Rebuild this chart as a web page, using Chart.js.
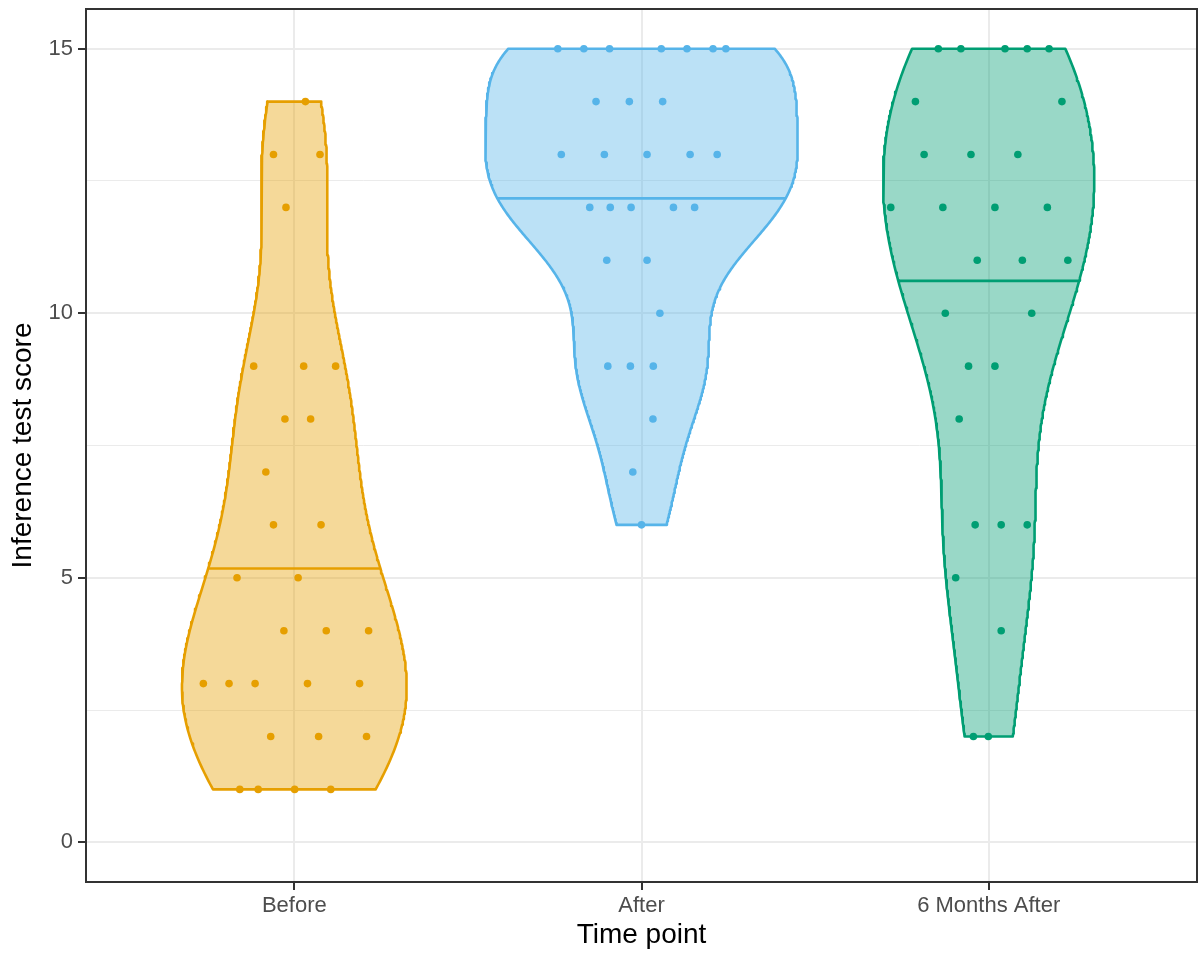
<!DOCTYPE html>
<html>
<head>
<meta charset="utf-8">
<script src="https://cdn.jsdelivr.net/npm/chart.js@4.4.0/dist/chart.umd.min.js"></script>
<style>
  html, body { margin: 0; padding: 0; background: #fff; }
</style>
</head>
<body>
<canvas id="violinChart" width="1201" height="953"></canvas>
<script>
// data
const categories = ['Before', 'After', '6 Months After'];
const beforeScores = [14, 13, 13, 12, 9, 9, 9, 8, 8, 7, 6, 6, 5, 5, 4, 4, 4, 3, 3, 3, 3, 3, 2, 2, 2, 1, 1, 1, 1];
const beforeJitter = [0.032, -0.060, 0.074, -0.024, -0.117, 0.027, 0.119, -0.027, 0.047, -0.082, -0.060, 0.077, -0.165, 0.011, -0.030, 0.092, 0.214, -0.262, -0.188, -0.113, 0.038, 0.188, -0.068, 0.070, 0.208, -0.157, -0.104, 0.001, 0.105];
const afterScores = [15, 15, 15, 15, 15, 15, 15, 14, 14, 14, 13, 13, 13, 13, 13, 12, 12, 12, 12, 12, 11, 11, 10, 9, 9, 9, 8, 7, 6];
const afterJitter = [-0.241, -0.166, -0.092, 0.057, 0.131, 0.206, 0.243, -0.131, -0.035, 0.061, -0.231, -0.107, 0.016, 0.140, 0.218, -0.149, -0.090, -0.030, 0.092, 0.153, -0.100, 0.016, 0.053, -0.097, -0.032, 0.034, 0.033, -0.025, 0.000];
const sixMonthScores = [15, 15, 15, 15, 15, 14, 14, 13, 13, 13, 12, 12, 12, 12, 11, 11, 11, 10, 10, 9, 9, 8, 6, 6, 6, 5, 4, 2, 2];
const sixMonthJitter = [-0.145, -0.080, 0.047, 0.111, 0.174, -0.211, 0.211, -0.186, -0.051, 0.084, -0.282, -0.132, 0.018, 0.169, -0.033, 0.097, 0.228, -0.125, 0.124, -0.058, 0.018, -0.085, -0.039, 0.036, 0.111, -0.095, 0.036, -0.044, -0.001];
const yTicks = [0, 2.5, 5, 7.5, 10, 12.5, 15];

const groups = [
    { scores: beforeScores, jitter: beforeJitter, colour: '#E69F00', fill: 'rgba(230, 159, 0, 0.4)' },
    { scores: afterScores, jitter: afterJitter, colour: '#56B4E9', fill: 'rgba(86, 180, 233, 0.4)' },
    { scores: sixMonthScores, jitter: sixMonthJitter, colour: '#009E73', fill: 'rgba(0, 158, 115, 0.4)' }
];

// Silverman's rule (R's bw.nrd0), same as ggplot's default
function bwNrd0(values) {
    const s = [...values].sort((a, b) => a - b);
    const n = s.length;
    const mean = s.reduce((a, b) => a + b, 0) / n;
    const sd = Math.sqrt(s.reduce((a, b) => a + (b - mean) ** 2, 0) / (n - 1));
    const q = p => {
        const h = (n - 1) * p, lo = Math.floor(h);
        return s[lo] + (h - lo) * (s[Math.min(lo + 1, n - 1)] - s[lo]);
    };
    const spread = Math.min(sd, (q(0.75) - q(0.25)) / 1.34) || sd || 1;
    return 0.9 * spread * Math.pow(n, -0.2);
}

// gaussian kde, trimmed to the data range
function density(values) {
    const bw = bwNrd0(values);
    const lo = Math.min(...values), hi = Math.max(...values);
    const ys = [], dens = [];
    for (let i = 0; i < 256; i++) {
        const y = lo + (hi - lo) * i / 255;
        let d = 0;
        values.forEach(v => { const z = (y - v) / bw; d += Math.exp(-0.5 * z * z); });
        ys.push(y);
        dens.push(d / (values.length * bw * Math.sqrt(2 * Math.PI)));
    }
    return { ys, dens };
}

const kdes = groups.map(g => density(g.scores));
const maxDens = Math.max(...kdes.map(k => Math.max(...k.dens)));

const datasets = [];
groups.forEach((g, gi) => {
    const centre = gi + 1;
    const { ys, dens } = kdes[gi];
    const half = dens.map(d => 0.45 * d / maxDens);

    const outline = [];
    for (let i = 0; i < ys.length; i++) outline.push({ x: centre + half[i], y: ys[i] });
    for (let i = ys.length - 1; i >= 0; i--) outline.push({ x: centre - half[i], y: ys[i] });
    outline.push(outline[0]);

    datasets.push({
        data: outline,
        showLine: true,
        fill: 'shape',
        backgroundColor: g.fill,
        borderColor: g.colour,
        borderWidth: 2.6,
        borderJoinStyle: 'round',
        borderCapStyle: 'round',
        pointRadius: 0,
        tension: 0,
        order: 3
    });

    // median of the density, as draw_quantiles = 0.5
    const total = dens.reduce((a, b) => a + b, 0);
    let cum = 0, medY = ys[0], medW = half[0];
    for (let i = 0; i < ys.length; i++) {
        const prev = cum;
        cum += dens[i] / total;
        if (cum >= 0.5) {
            const t = i === 0 ? 0 : (0.5 - prev) / (cum - prev);
            medY = ys[i - 1] + t * (ys[i] - ys[i - 1]);
            medW = half[i - 1] + t * (half[i] - half[i - 1]);
            break;
        }
    }
    datasets.push({
        data: [{ x: centre - medW, y: medY }, { x: centre + medW, y: medY }],
        showLine: true,
        fill: false,
        borderColor: g.colour,
        borderWidth: 2.6,
        pointRadius: 0,
        order: 2
    });
});

groups.forEach((g, gi) => {
    datasets.push({
        data: g.scores.map((s, i) => ({ x: gi + 1 + g.jitter[i], y: s })),
        backgroundColor: g.colour,
        borderWidth: 0,
        pointRadius: 3.8,
        order: 1
    });
});

const panelBorder = {
    id: 'panelBorder',
    afterDraw(chart) {
        const { ctx, chartArea: a } = chart;
        ctx.save();
        ctx.strokeStyle = '#333333';
        ctx.lineWidth = 2;
        ctx.strokeRect(a.left, a.top, a.right - a.left, a.bottom - a.top);
        ctx.restore();
    }
};

Chart.defaults.font.family = '"Liberation Sans", Arial, sans-serif';

const ctx = document.getElementById('violinChart').getContext('2d');
const violinChart = new Chart(ctx, {
    type: 'scatter',
    data: { datasets: datasets },
    plugins: [panelBorder],
    options: {
        responsive: false,
        devicePixelRatio: 1,
        animation: false,
        events: [],
        layout: { padding: { top: 9, right: 0, left: 0, bottom: 0 } },
        plugins: { legend: { display: false }, tooltip: { enabled: false } },
        scales: {
            x: {
                type: 'linear',
                min: 0.4,
                max: 3.6,
                afterBuildTicks: scale => { scale.ticks = categories.map((c, i) => ({ value: i + 1 })); },
                afterFit: scale => { scale.height = 71; scale.paddingLeft = 0; scale.paddingRight = 0; },
                border: { display: false },
                grid: { color: '#EBEBEB', lineWidth: 2, tickColor: '#333333', tickLength: 8, tickWidth: 2 },
                ticks: {
                    autoSkip: false,
                    maxRotation: 0,
                    padding: 2.5,
                    color: '#4D4D4D',
                    font: { size: 22 },
                    callback: v => categories[v - 1]
                },
                title: { display: true, text: 'Time point', color: '#000000', font: { size: 28 }, padding: { top: 0, bottom: 1 } }
            },
            y: {
                min: -0.75,
                max: 15.75,
                afterBuildTicks: scale => { scale.ticks = yTicks.map(v => ({ value: v })); },
                afterFit: scale => { scale.width = 86; scale.paddingTop = 0; scale.paddingBottom = 0; },
                border: { display: false },
                grid: {
                    color: '#EBEBEB',
                    lineWidth: c => (c.tick && c.tick.value % 5 === 0 ? 2 : 1),
                    tickColor: c => (c.tick && c.tick.value % 5 === 0 ? '#333333' : 'rgba(0,0,0,0)'),
                    tickLength: 8,
                    tickWidth: 2
                },
                ticks: {
                    padding: 5,
                    color: '#4D4D4D',
                    font: { size: 22 },
                    callback: v => (v % 5 === 0 ? String(v) : '')
                },
                title: { display: true, text: 'Inference test score', color: '#000000', font: { size: 28 }, padding: { top: 6.5, bottom: 0 } }
            }
        }
    }
});
</script>
</body>
</html>
